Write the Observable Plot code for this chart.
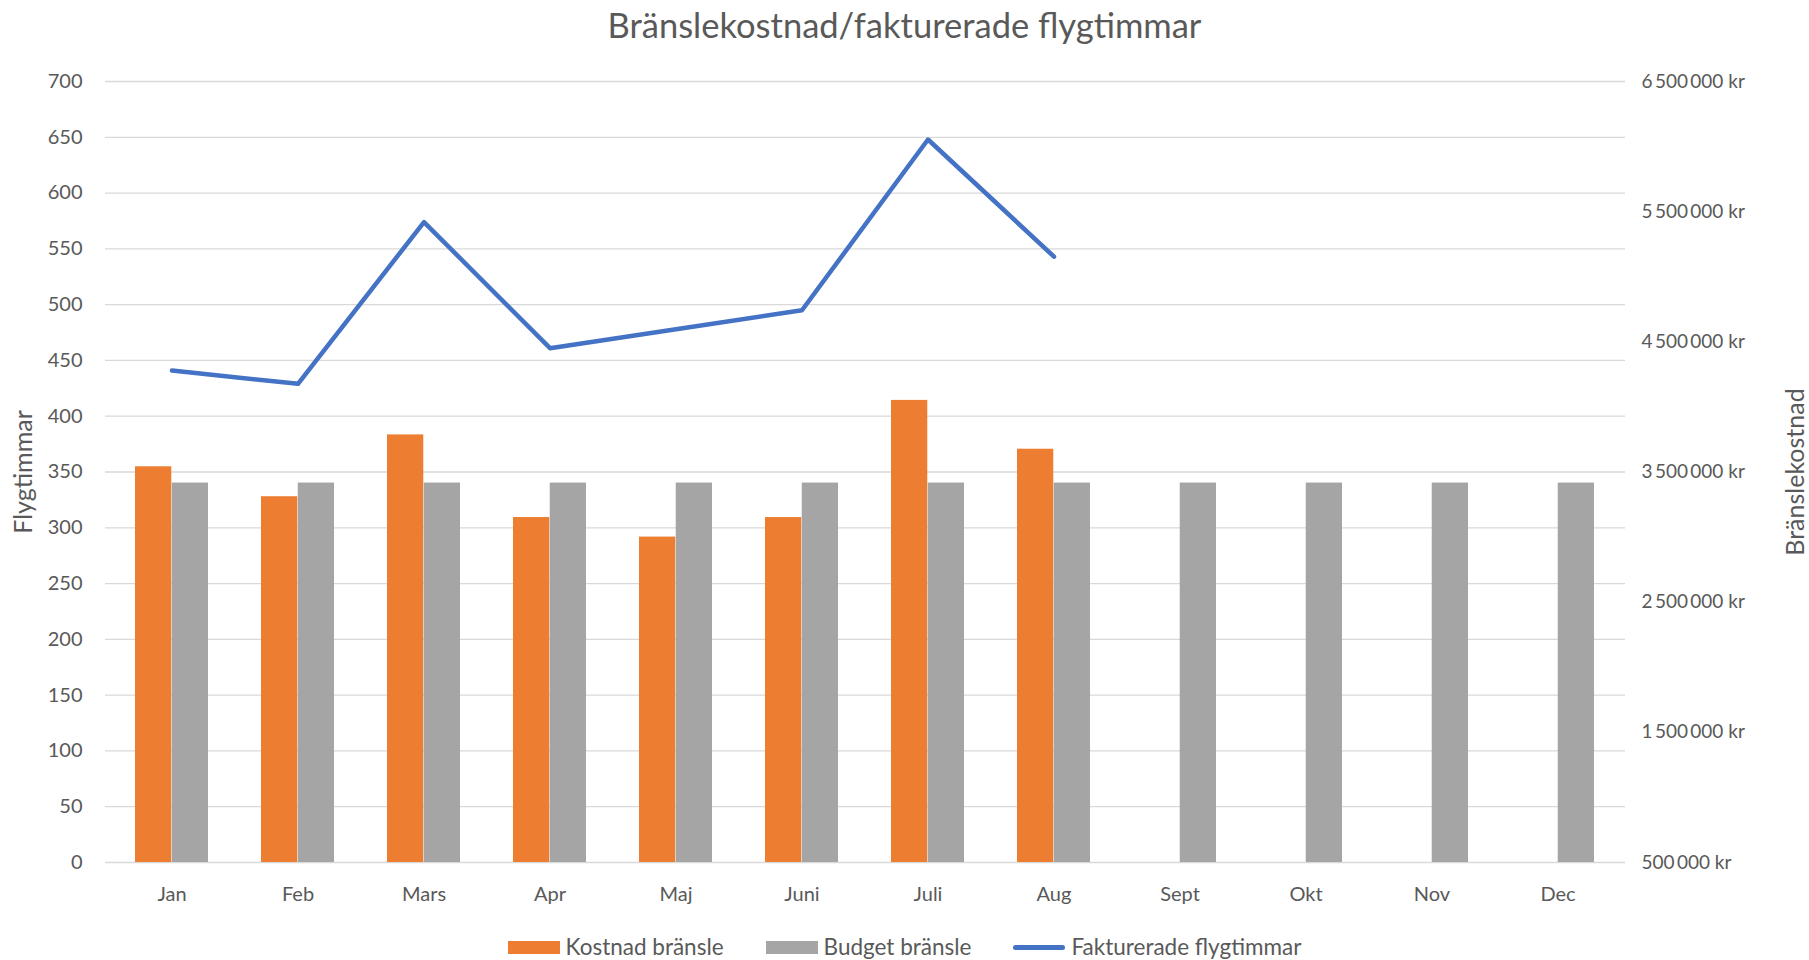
<!DOCTYPE html>
<html>
<head>
<meta charset="utf-8">
<script src="https://cdn.jsdelivr.net/npm/d3@7"></script>
<script src="https://cdn.jsdelivr.net/npm/@observablehq/plot@0.6"></script>
<style>
  html, body { margin: 0; padding: 0; background: #fff; }
  #wrap { position: relative; width: 1809px; height: 960px; font-family: Lato, "Open Sans", sans-serif; color: #595959; }
  #title { position: absolute; left: 0; width: 1809px; top: 3px; text-align: center; font-size: 34.5px; line-height: 44px; }
  #legend { position: absolute; left: 0; width: 1809px; top: 933px; display: flex; justify-content: center; align-items: center; font-size: 22.5px; line-height: 28px; }
  .item { display: flex; align-items: center; margin: 0 21px; }
  .sw { display: inline-block; width: 52px; height: 13px; margin-right: 6px; }
  .ln { display: inline-block; width: 52px; height: 5px; border-radius: 3px; margin-right: 6px; background: #4472C4; }
  #chart { position: absolute; left: 0; top: 0; }
</style>
</head>
<body>
<div id="wrap">
  <div id="chart"></div>
  <div id="title">Bränslekostnad/fakturerade flygtimmar</div>
  <div id="legend">
    <div class="item"><span class="sw" style="background:#ED7D31"></span>Kostnad bränsle</div>
    <div class="item"><span class="sw" style="background:#A5A5A5"></span>Budget bränsle</div>
    <div class="item"><span class="ln"></span>Fakturerade flygtimmar</div>
  </div>
</div>
<script>
// ---- data ----
const months = ["Jan","Feb","Mars","Apr","Maj","Juni","Juli","Aug","Sept","Okt","Nov","Dec"];
const kostnadBransle = [3540000, 3310000, 3785000, 3150000, 3000000, 3150000, 4050000, 3675000];
const budgetBransle = [3415000, 3415000, 3415000, 3415000, 3415000, 3415000, 3415000, 3415000, 3415000, 3415000, 3415000, 3415000];
const flygtimmar = [441, 429, 574, 461, 478, 495, 648, 543];
const leftTicks = [0, 50, 100, 150, 200, 250, 300, 350, 400, 450, 500, 550, 600, 650, 700];
const rightTicks = [500000, 1500000, 2500000, 3500000, 4500000, 5500000, 6500000];
const leftDomain = [0, 700];
const rightDomain = [500000, 6500000];

// ---- helpers: map kr (right axis) onto left axis units ----
const toLeft = v => (v - rightDomain[0]) / (rightDomain[1] - rightDomain[0]) * (leftDomain[1] - leftDomain[0]) + leftDomain[0];
const fromLeft = y => (y - leftDomain[0]) / (leftDomain[1] - leftDomain[0]) * (rightDomain[1] - rightDomain[0]) + rightDomain[0];
const fmtKr = y => d3.format(",")(Math.round(fromLeft(y) / 1000) * 1000).replace(/,/g, "\u2009") + " kr";

const kostnadData = kostnadBransle.map((v, i) => ({month: months[i], value: v}));
const budgetData = budgetBransle.map((v, i) => ({month: months[i], value: v}));
const lineData = flygtimmar.map((v, i) => ({month: months[i], value: v}));

const W = 1809, H = 960;
const mL = 105, mR = 184, mT = 81, mB = 98;
const pInner = 0.42;
const step = (W - mL - mR) / months.length;
const half = step * (1 - pInner) / 2;

const chart = Plot.plot({
  width: W, height: H,
  marginLeft: mL, marginRight: mR, marginTop: mT, marginBottom: mB,
  style: {fontFamily: "Lato, 'Open Sans', sans-serif", color: "#595959", background: "transparent"},
  x: {domain: months, paddingInner: pInner, paddingOuter: pInner / 2},
  y: {domain: leftDomain},
  marks: [
    Plot.gridY(leftTicks, {stroke: "#d9d9d9", strokeOpacity: 1, strokeWidth: 1.3}),
    Plot.axisY(leftTicks, {anchor: "left", tickSize: 0, tickPadding: 23, label: null, fontSize: 20}),
    Plot.axisY(rightTicks.map(toLeft), {anchor: "right", tickSize: 0, tickPadding: 16, label: null, fontSize: 19, tickFormat: fmtKr}),
    Plot.axisX({tickSize: 0, tickPadding: 24, label: null, fontSize: 20}),
    Plot.barY(kostnadData, {x: "month", y: d => toLeft(d.value), fill: "#ED7D31", insetRight: half}),
    Plot.barY(budgetData, {x: "month", y: d => toLeft(d.value), fill: "#A5A5A5", insetLeft: half}),
    Plot.line(lineData, {x: "month", y: "value", stroke: "#4472C4", strokeWidth: 4.5, strokeLinecap: "round", strokeLinejoin: "round"}),
    Plot.text(["Flygtimmar"], {text: d => d, frameAnchor: "left", textAnchor: "middle", dx: -82, dy: 0, rotate: -90, fontSize: 25, fill: "#595959"}),
    Plot.text(["Bränslekostnad"], {text: d => d, frameAnchor: "right", textAnchor: "middle", dx: 170, dy: 0, rotate: -90, fontSize: 25, fill: "#595959"})
  ]
});
document.getElementById("chart").appendChild(chart);
</script>
</body>
</html>
